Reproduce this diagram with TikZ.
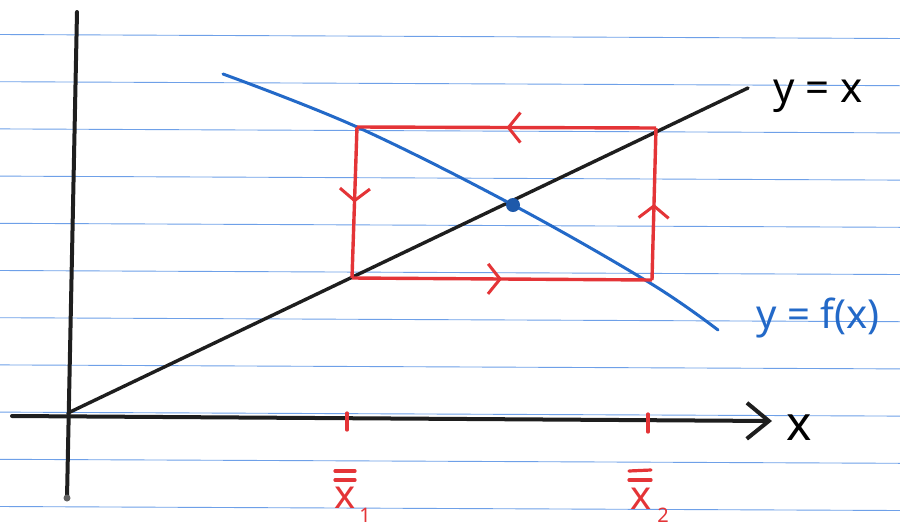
\documentclass[tikz,border=0pt]{standalone}
\usepackage{fontspec}
\setmainfont{Noto Sans}
\usetikzlibrary{arrows.meta,decorations.markings}
\definecolor{ruled}{RGB}{110,160,232}
\definecolor{penred}{RGB}{228,52,55}
\definecolor{penblue}{RGB}{35,105,200}
\definecolor{penblack}{RGB}{30,30,30}
\tikzset{
  rule/.style={ruled, line width=0.9pt},
  axis/.style={penblack, line width=4pt, line cap=round},
  cobweb/.style={penred, line width=3.4pt, line join=round},
  midbarb/.style={postaction={decorate, decoration={markings,
     mark=at position 0.5 with {\arrow{Straight Barb[length=12pt,width=30pt,line width=3pt]}}}}},
  lbl/.style={inner sep=0pt, font=\fontsize{42}{46}\selectfont},
  redlbl/.style={inner sep=0pt, text=penred, font=\fontsize{40}{44}\selectfont},
  tick/.style={penred, line width=3.2pt, line cap=round},
}
\begin{document}
\begin{tikzpicture}[x=1pt,y=-1pt]
\useasboundingbox (0,0) rectangle (900,531);
\fill[white] (0,0) rectangle (900,531);
% ruled paper
\foreach \k in {0,...,10} {
  \draw[rule] (0,{34.5+47.2*\k}) -- (900,{38.5+47.2*\k});
}
% named points
\coordinate (O) at (68,413);
\coordinate (yTop) at (77,12);
\coordinate (yBot) at (67,498);
\coordinate (xL) at (12,416);
\coordinate (xR) at (772,421);
\coordinate (LineEnd) at (748,88);
\coordinate (A) at (357,127);
\coordinate (B) at (656,128);
\coordinate (C) at (652,280);
\coordinate (D) at (352,278);
\coordinate (P) at (513,205);
\coordinate (t1a) at (347,413);
\coordinate (t1b) at (347,430);
\coordinate (t2a) at (648,414);
\coordinate (t2b) at (648,432);
% axes
\draw[axis] (yBot) -- (yTop);
\fill[penblack!70] (yBot) circle (3.5);
\draw[axis, -{Straight Barb[length=22pt,width=36pt,line width=4pt]}] (xL) -- (xR);
% y = x
\draw[axis, line width=3.4pt] (O) -- (LineEnd);
% blue curve
\draw[penblue, line width=3pt, line cap=round] plot[smooth, tension=0.6] coordinates {(223,74) (357,127) (513,205) (650,283) (718,330)};
% cobweb rectangle
\draw[cobweb, midbarb] (B) -- (A);
\draw[cobweb, midbarb] (A) -- (D);
\draw[cobweb, midbarb] (D) -- (C);
\draw[cobweb, midbarb] (C) -- (B);
% fixed point
\fill[penblue!85!black] (P) circle (7);
% ticks
\draw[tick] (t1a) -- (t1b);
\draw[tick] (t2a) -- (t2b);
% labels
\node[lbl, anchor=base] (lyx) at (818,102) {y = x};
\node[lbl, anchor=base, text=penblue, font=\fontsize{40}{44}\selectfont] (lyf) at (818,328) {y = f(x)};
\node[lbl, anchor=base, font=\fontsize{48}{52}\selectfont] (lx) at (799,440) {x};
\node[redlbl, anchor=base] (x1) at (345,508) {x};
\node[redlbl, anchor=base, font=\fontsize{20}{22}\selectfont] (s1) at (365,522) {1};
\node[redlbl, anchor=base] (x2) at (641,509) {x};
\node[redlbl, anchor=base, font=\fontsize{20}{22}\selectfont] (s2) at (663,522) {2};
\coordinate (b1a) at (335,471); \coordinate (b1b) at (355,471);
\coordinate (b1c) at (335,480); \coordinate (b1d) at (355,480);
\coordinate (b2a) at (629,471); \coordinate (b2b) at (651,470);
\coordinate (b2c) at (629,480); \coordinate (b2d) at (651,480);
\draw[tick] (b1a) -- (b1b);
\draw[tick] (b1c) -- (b1d);
\draw[tick] (b2a) -- (b2b);
\draw[tick] (b2c) -- (b2d);
\end{tikzpicture}
\end{document}
